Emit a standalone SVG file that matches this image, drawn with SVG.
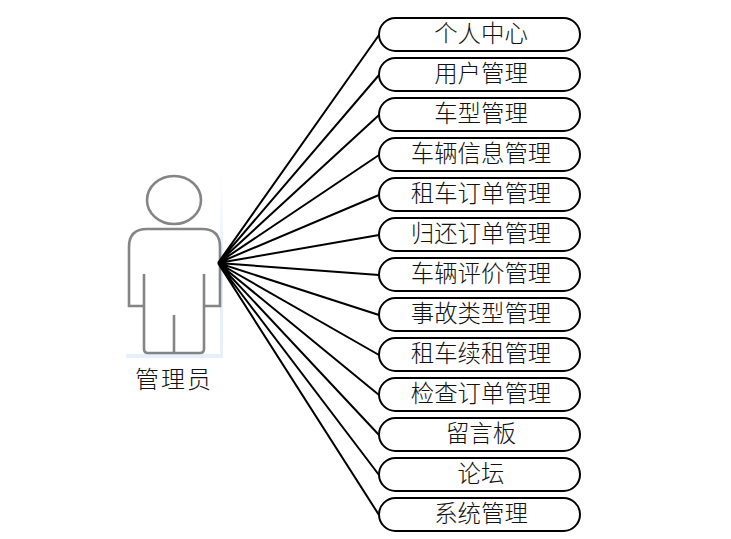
<svg xmlns="http://www.w3.org/2000/svg" width="731" height="539" viewBox="0 0 731 539">
<defs>
<linearGradient id="sh" x1="0" y1="0" x2="0" y2="1"><stop offset="0" stop-color="#eaf1fb" stop-opacity="0"/><stop offset="0.5" stop-color="#e3edfa"/><stop offset="1" stop-color="#eaf1fb"/></linearGradient>
</defs>
<style>
text{font-family:"Noto Sans CJK SC","Noto Sans CJK JP",sans-serif;font-size:23.4px;fill:#111;text-anchor:middle;font-weight:300}
.b{fill:#fff;stroke:#000;stroke-width:2}
.c{stroke:#000;stroke-width:2;fill:none}
.p{fill:none;stroke:#858585;stroke-width:2.6}
</style>
<rect width="731" height="539" fill="#fff"/>
<g id="actor">
<rect x="220" y="172" width="3" height="186" fill="url(#sh)"/>
<rect x="126" y="354" width="97" height="4" fill="#e6effb"/>
<ellipse class="p" cx="174" cy="200" rx="27" ry="24"/>
<path class="p" d="M144 306H129V247Q129 229 147 229H202Q220 229 220 247V306H204M144 274V349Q144 353 148 353H200Q204 353 204 349V274M174 315V353"/>
<text x="174" y="388" style="letter-spacing:2px;font-size:24px">管理员</text>
</g>
<g id="connectors">
<path class="c" d="M218 263L379 35M218 263L379 75M218 263L379 115M218 263L379 155M218 263L379 195M218 263L379 235M218 263L379 275M218 263L379 315M218 263L379 355M218 263L379 395M218 263L379 435M218 263L379 475M218 263L379 515"/>
</g>
<g id="n1"><rect class="b" x="379" y="18" width="201" height="33" rx="16.5"/><text x="481" y="42">个人中心</text></g>
<g id="n2"><rect class="b" x="379" y="58" width="201" height="33" rx="16.5"/><text x="481" y="82">用户管理</text></g>
<g id="n3"><rect class="b" x="379" y="98" width="201" height="33" rx="16.5"/><text x="481" y="122">车型管理</text></g>
<g id="n4"><rect class="b" x="379" y="138" width="201" height="33" rx="16.5"/><text x="481" y="162">车辆信息管理</text></g>
<g id="n5"><rect class="b" x="379" y="178" width="201" height="33" rx="16.5"/><text x="481" y="202">租车订单管理</text></g>
<g id="n6"><rect class="b" x="379" y="218" width="201" height="33" rx="16.5"/><text x="481" y="242">归还订单管理</text></g>
<g id="n7"><rect class="b" x="379" y="258" width="201" height="33" rx="16.5"/><text x="481" y="282">车辆评价管理</text></g>
<g id="n8"><rect class="b" x="379" y="298" width="201" height="33" rx="16.5"/><text x="481" y="322">事故类型管理</text></g>
<g id="n9"><rect class="b" x="379" y="338" width="201" height="33" rx="16.5"/><text x="481" y="362">租车续租管理</text></g>
<g id="n10"><rect class="b" x="379" y="378" width="201" height="33" rx="16.5"/><text x="481" y="402">检查订单管理</text></g>
<g id="n11"><rect class="b" x="379" y="418" width="201" height="33" rx="16.5"/><text x="481" y="442">留言板</text></g>
<g id="n12"><rect class="b" x="379" y="458" width="201" height="33" rx="16.5"/><text x="481" y="482">论坛</text></g>
<g id="n13"><rect class="b" x="379" y="498" width="201" height="33" rx="16.5"/><text x="481" y="522">系统管理</text></g>
</svg>
